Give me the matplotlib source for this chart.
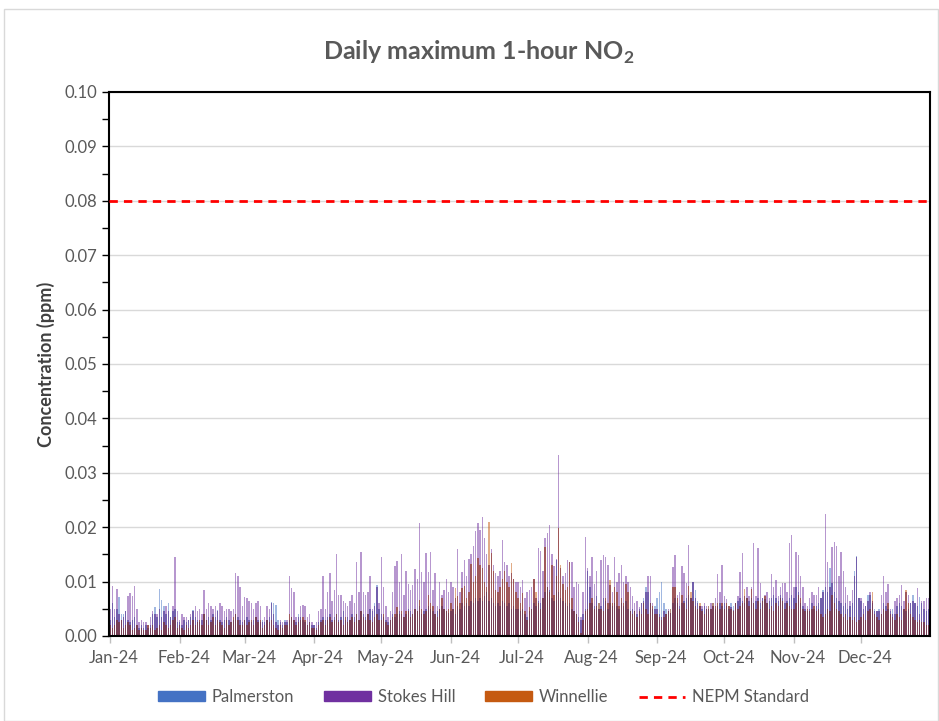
import numpy as np
import pandas as pd
import matplotlib
matplotlib.use("Agg")
import matplotlib.pyplot as plt
import matplotlib.dates as mdates
import matplotlib.transforms as mtransforms
from matplotlib.patches import Patch, Rectangle
from matplotlib.lines import Line2D

plt.rcParams['font.family'] = ['Lato', 'DejaVu Sans']

# daily maximum 1-hour NO2 in ppb, one line per month (Jan..Dec 2024)
palmerston = [
    3, 6, 3.5, 5, 7.2, 4, 4, 4.5, 3, 2.5, 3, 3.5, 2, 1.5, 2, 1.5, 2, 1.5, 2, 4, 5.3, 3.5, 8.6, 6.6, 5.5, 4, 6, 3.5, 4.5, 5, 2.5,
    2.5, 2, 3, 2.5, 3, 3.5, 4.8, 3.5, 3, 2.5, 3, 4, 3, 3.5, 3, 4, 3.5, 4.8, 3, 2.5, 3, 3.5, 3, 2.5, 3, 4, 3.5, 3, 2.5,
    3, 3.5, 3, 2.5, 3, 3.5, 3, 2.5, 3, 2.5, 3, 3.5, 6.3, 6, 5.7, 3, 2.5, 2, 3, 2.5, 3, 3.5, 3, 2.5, 4, 3.5, 3, 2.5, 2, 2.5, 2,
    2, 1.5, 2.5, 3, 3.5, 3, 3.5, 4, 3, 3.5, 4, 3, 3.5, 4.5, 3, 3.5, 3, 4, 3.5, 4, 3, 4.5, 4, 3.5, 4, 5, 4.5, 6, 9.4, 5,
    4, 3.5, 3, 2.5, 3, 4, 3.5, 4, 4.5, 4, 3.5, 4, 5, 4.5, 4, 5, 4.5, 5.5, 4, 4.5, 5, 5.5, 5, 4.5, 4, 4.5, 5, 5.5, 5, 4.5, 4.2,
    4.5, 5, 4, 5.5, 5, 6, 5.5, 6, 5.5, 6.5, 6, 7, 6.5, 7, 6.5, 7.4, 8, 6.5, 7, 6, 5.5, 6, 5.5, 6.5, 6, 5.5, 6, 5, 5.5, 5,
    5, 4.5, 5, 4, 3.5, 4.5, 5, 6, 5.5, 6.5, 6, 7, 8, 9, 8.5, 7, 6.5, 14, 8, 7, 6.5, 6, 5.5, 6, 5, 4.5, 4, 3.5, 3, 4, 5,
    12, 9, 6, 5.5, 7.3, 6, 5.5, 7, 6.5, 5, 6, 5.5, 6, 5.5, 5, 6, 5.5, 6.5, 5, 4.5, 5, 4.5, 4, 5, 6, 7, 9, 8, 6, 5, 5.5,
    7, 8, 10, 6, 5, 4.5, 5, 6, 7, 6, 5.5, 6, 6.5, 7, 7.5, 7, 10, 8.5, 6.5, 5.5, 5, 5.5, 5, 5.5, 5, 6, 5, 5.5, 6, 5.5,
    6, 5.5, 5, 6, 5.5, 6, 6.5, 7, 6.5, 6, 7, 6.5, 7, 6, 6.5, 7, 6, 7, 6.7, 6, 6.5, 7, 7.6, 7, 6.5, 7.5, 7, 6, 6.5, 7, 7.5,
    7, 9, 8, 6, 5.5, 5, 4.5, 5, 6, 5, 5.5, 6, 7, 8.5, 9, 8, 12.5, 9.7, 8, 7, 6.5, 6, 5.5, 6, 5, 5.5, 6, 12, 14.6, 7,
    6.5, 5, 5.5, 7.5, 7.5, 6, 5, 4.5, 5, 4, 6, 5.5, 5, 4.5, 5, 4, 5.5, 6, 5.5, 5, 4.5, 5, 6, 7.5, 6, 5.5, 7.2, 6, 5, 4.5, 5,
]
stokes_hill = [
    5, 9.2, 5, 8.6, 4, 3, 3.5, 4.5, 7.3, 7.9, 7.3, 9.2, 5, 2.5, 3, 2.5, 2.5, 2, 3.5, 4.5, 4, 4, 5, 3.5, 4.5, 5.5, 4.5, 3.5, 5.5, 14.5, 4.5,
    3, 4, 3.5, 3.5, 3, 4, 4.5, 5.5, 4.5, 5, 4, 8.4, 5, 6, 5.5, 5, 5.5, 4.5, 6, 5.5, 4.5, 5, 5, 4.5, 5, 11.6, 11, 9, 5.5,
    7.2, 7, 6.5, 6, 5, 6, 6.5, 5.5, 2.5, 3.5, 5.5, 5, 6, 4, 2.5, 2, 3, 2.5, 2.5, 3, 11, 8.8, 8, 3.5, 3.5, 5.5, 5.7, 5.5, 3.5, 4, 2.5,
    2, 2.5, 4.5, 5, 11, 5, 8, 11.6, 6.5, 8.5, 15, 7.5, 7.5, 6.5, 6, 5.5, 6.5, 7.5, 6, 13.6, 8, 15.5, 8, 7.5, 8, 11, 5, 5.5, 9, 6,
    14.5, 9, 5.5, 3.5, 4.5, 8, 12.8, 13.8, 10, 15, 7.5, 12, 9.5, 8.5, 9.3, 12.3, 10.5, 20.8, 11.8, 10, 15.2, 11.8, 15.5, 8.5, 11.5, 5.5, 10, 7.5, 8.5, 10.4, 8,
    10, 9, 7, 16, 8, 11.8, 13.9, 11, 14.2, 15, 16.6, 19.2, 20.7, 19.5, 21.9, 18, 15, 13, 16, 13, 11.5, 11, 12, 17.6, 13.5, 13, 11, 11.5, 10.5, 10,
    10, 9, 10.3, 7, 8, 8.5, 9, 10.5, 7, 16.2, 15.6, 12, 18, 19, 20.3, 15, 12.8, 14.2, 33.3, 12.5, 11, 11.5, 14, 13.5, 13.5, 9, 10, 9.5, 3.5, 8, 18.2,
    12.5, 11, 14.5, 9.5, 12, 5, 14, 14.9, 14.5, 13, 9.3, 8, 14.5, 10, 11.6, 13, 10, 11, 10, 9, 7.3, 6, 6.5, 5.4, 6, 6.5, 8, 11, 11, 6, 5,
    5, 4, 3.5, 4.5, 4, 5, 4.2, 12.7, 14.8, 7.5, 8, 12.8, 11.6, 9.7, 16.8, 7, 10, 7, 6, 5.5, 5.5, 6, 5.5, 5, 6, 5.5, 7, 11.3, 8, 13,
    7.4, 6.8, 5.5, 5.4, 4.8, 6, 7.3, 11.8, 15.2, 7.3, 9, 7.3, 9, 17.1, 7.3, 16.2, 9.7, 7, 7.5, 8, 7, 11.3, 9, 10.3, 7.3, 9, 9.7, 9.7, 8, 17.1, 18.6,
    9, 15.5, 14.9, 11, 9, 6, 5.5, 7, 8, 7.5, 7.5, 9, 7, 8, 22.4, 13.6, 9, 16.4, 17.3, 16.5, 11, 15.5, 12, 9, 7.5, 6.5, 8.5, 11, 14.5, 7,
    7, 6, 5.5, 6.5, 8, 6.5, 4.5, 4.5, 4.5, 7.5, 11, 8, 9.5, 5, 4, 6.5, 7, 7.5, 9.3, 6.5, 8, 7.5, 6, 6.5, 6, 8.8, 4, 6.5, 6.5, 7, 7,
]
winnellie = [
    2, 1.5, 2, 3, 2.5, 3, 1.5, 2, 2.5, 2, 1, 1.5, 2, 1, 1.5, 1, 1, 2, 1.5, 2, 1, 1.5, 2, 1, 2.5, 2, 1.5, 2, 3, 3.5, 1.5,
    2, 1.5, 1, 2, 1.5, 2, 3, 2, 2.5, 3, 2, 4, 3, 2, 2.5, 3.5, 2, 3, 2.5, 2, 1.5, 3, 2, 2.5, 3.5, 4, 3, 2, 2,
    3, 2, 2.5, 3, 2, 3.5, 2.5, 3, 1.5, 2, 3, 2.5, 3, 2, 1.5, 1, 2, 1.5, 2, 2, 4, 3.5, 3, 2, 2.5, 3, 3.5, 3, 2, 2.5, 1.5,
    1.5, 1, 2, 2.5, 3, 2, 3, 3.5, 2.5, 3, 4, 2.5, 3, 2, 3.5, 2.5, 3, 3.5, 2.5, 4, 3, 4.5, 3.5, 3, 4, 3, 2.5, 3.5, 4, 3,
    3, 4, 2.5, 2, 3, 3.5, 4, 5.3, 4, 4.5, 3.5, 4.5, 4.5, 3.5, 4, 5, 4.5, 6.6, 5, 4, 4.5, 7.5, 6, 5.5, 4, 3.5, 5, 6.9, 5, 4.5, 5,
    6, 5, 8.8, 7.3, 6, 8.8, 9.1, 7, 8, 13.2, 10, 11, 14.3, 13, 12.5, 10, 9, 21, 15.2, 12, 8.5, 8, 9, 10.5, 12, 10, 9, 13.4, 10.5, 8,
    7, 6, 7.9, 4.5, 3, 5.4, 5, 10.5, 8, 6, 5, 7, 16.4, 9, 8, 13, 7.5, 11, 19.8, 13, 9.5, 8.5, 9, 13.6, 7, 4.5, 4, 2.5, 0.5, 3, 4.5,
    5, 6, 7, 5, 5.5, 6, 5, 4.5, 7, 6, 10.3, 6, 9, 8, 5.5, 7, 6, 9.5, 8, 4.5, 4, 4.5, 3.5, 4.5, 4, 6, 5, 4, 6, 5.5, 4,
    4, 3.5, 3, 3.5, 4, 4.5, 5, 9, 9, 7, 5, 7.5, 6, 5, 9.2, 8, 6.5, 5.5, 5, 6, 4.5, 4, 5, 5.5, 5, 6, 5.5, 6, 5, 6,
    5, 6, 5.5, 5, 4.5, 6, 5, 5.5, 6, 8.7, 7, 5.5, 8.7, 6, 5, 6.5, 5, 6.5, 7.3, 6, 5, 5.5, 4.5, 6, 5.5, 7, 6.5, 5, 6, 5.5, 5,
    5, 6, 7.5, 7, 5, 4.5, 5, 4.5, 5, 5.5, 4.5, 5, 4, 3.5, 4, 5, 4.5, 7.5, 6, 5, 4.5, 4, 3.5, 4, 3, 3.5, 3, 3.5, 2.5, 3,
    3.5, 4, 3, 4.5, 5, 8, 4, 3.5, 3, 4, 5, 4.5, 6, 4, 3.5, 3, 4, 3.5, 3, 5, 8.5, 6, 4, 3.5, 3, 2.5, 3, 2.5, 2.5, 2, 2,
]
series_names = ["Palmerston", "Stokes Hill", "Winnellie"]
series_colors = ["#4472C4", "#7030A0", "#C55A11"]
nepm_standard = 0.08  # ppm

days = pd.date_range("2024-01-01", "2024-12-31", freq="D")
pal = np.array(palmerston) / 1000.0
sto = np.array(stokes_hill) / 1000.0
win = np.array(winnellie) / 1000.0

fig = plt.figure(figsize=(9.39, 7.21), dpi=100)
ax = fig.add_axes([0.116, 0.118, 0.874, 0.7545])

bw = 0.65
for vals, col in zip([pal, sto, win], series_colors):
    ax.bar(days, vals, width=bw, color=col, alpha=0.5, linewidth=0, zorder=2)

# overlapping transparent columns in Excel come out darker than plain alpha blending,
# so shade the shared part of the columns a little more
ax.bar(days, np.minimum(sto, win), width=bw, color="#5a0f2a", alpha=0.3, linewidth=0, zorder=2)
ax.bar(days, np.minimum(sto, pal), width=bw, color="#1a1060", alpha=0.2, linewidth=0, zorder=2)

ax.axhline(nepm_standard, color="#ff0000", lw=2, ls=(0, (3, 2.2)), zorder=3)

ax.set_ylim(0, 0.10)
ax.set_yticks(np.arange(0, 0.1001, 0.01))
ax.set_yticks(np.arange(0.005, 0.1, 0.01), minor=True)
ax.yaxis.set_major_formatter(plt.FuncFormatter(lambda v, p: f"{v:.2f}"))
ax.yaxis.grid(True, color="#d9d9d9", lw=1)
ax.set_axisbelow(True)

x0 = mdates.date2num(days[0]) - 0.5
x1 = mdates.date2num(days[-1]) + 0.5
ax.set_xlim(x0, x1)
ax.xaxis.set_major_locator(mdates.MonthLocator())
ax.xaxis.set_major_formatter(mdates.DateFormatter("%b-%y"))

for s in ax.spines.values():
    s.set_color("black")
    s.set_linewidth(1.5)
ax.tick_params(axis="y", which="both", direction="out", length=5, width=1, colors="black",
               labelcolor="#595959", labelsize=12)
ax.tick_params(axis="x", direction="out", length=5, width=1, color="#bfbfbf",
               labelcolor="#595959", labelsize=12, pad=5)
shift = mtransforms.ScaledTranslation(4 / 100, 0, fig.dpi_scale_trans)
for lbl in ax.get_xticklabels():
    lbl.set_transform(lbl.get_transform() + shift)

ax.set_ylabel("Concentration (ppm)", fontsize=13, fontweight="bold", color="#404040", labelpad=7)

fig.text(0.51, 0.928, r"Daily maximum 1-hour NO$_\mathregular{2}$", ha="center", va="center",
         fontsize=18, fontweight="bold", color="#595959")

handles = [Patch(color=c, label=n) for n, c in zip(series_names, series_colors)]
handles.append(Line2D([], [], color="#ff0000", lw=2, ls=(0, (3, 2.2)), label="NEPM Standard"))
fig.legend(handles=handles, loc="center", bbox_to_anchor=(0.515, 0.033), ncol=4, frameon=False,
           fontsize=12, labelcolor="#595959", handlelength=2.8, handleheight=0.55,
           columnspacing=1.8, handletextpad=0.42)

fig.patches.append(Rectangle((0.004, 0.0), 0.995, 0.987, transform=fig.transFigure,
                             fill=False, edgecolor="#d9d9d9", lw=1))

fig.savefig("out.png", dpi=100)
